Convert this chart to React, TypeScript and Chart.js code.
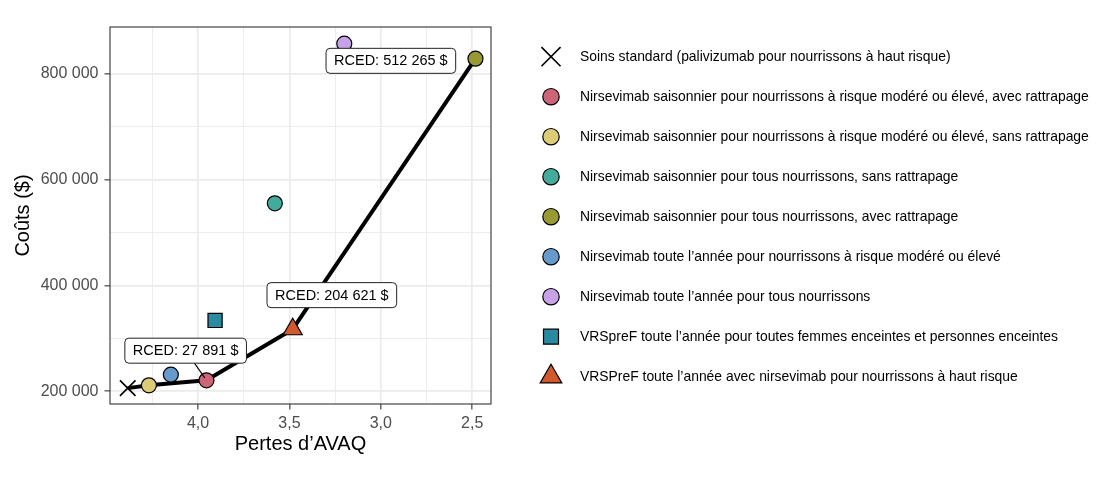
import React, { useEffect, useRef } from "react";
import { Chart, registerables } from "chart.js";
import type { ChartConfiguration, Plugin } from "chart.js";

Chart.register(...registerables);

const FONT = "'Liberation Sans', Arial, Helvetica, sans-serif";

// strategies, in legend order
const strategies = [
    "Soins standard (palivizumab pour nourrissons à haut risque)",
    "Nirsevimab saisonnier pour nourrissons à risque modéré ou élevé, avec rattrapage",
    "Nirsevimab saisonnier pour nourrissons à risque modéré ou élevé, sans rattrapage",
    "Nirsevimab saisonnier pour tous nourrissons, sans rattrapage",
    "Nirsevimab saisonnier pour tous nourrissons, avec rattrapage",
    "Nirsevimab toute l’année pour nourrissons à risque modéré ou élevé",
    "Nirsevimab toute l’année pour tous nourrissons",
    "VRSpreF toute l’année pour toutes femmes enceintes et personnes enceintes",
    "VRSPreF toute l’année avec nirsevimab pour nourrissons à haut risque",
];
const qalyLosses = [4.385, 3.954, 4.269, 3.58, 2.482, 4.149, 3.2, 3.907, 3.482];
const costs = [206000, 220700, 211300, 555000, 828200, 231500, 856500, 333800, 317200];
const fillColors = ["#000000", "#CC6677", "#DDCC77", "#44AA99", "#999933", "#6699CC", "#C7A2E6", "#2A8AA2", "#D2592E"];
const shapes = ["crossRot", "circle", "circle", "circle", "circle", "circle", "circle", "rect", "triangle"];

// efficiency frontier (indices into strategies)
const frontier = [0, 2, 1, 8, 4];

// ICER labels
const icerTexts = ["RCED: 27 891 $", "RCED: 204 621 $", "RCED: 512 265 $"];
const icerTargets = [1, 8, 4];
const icerLabelX = [4.068, 3.268, 2.945];
const icerLabelY = [276700, 381600, 824100];
const icerSegment = [true, false, false];

const xTicks = [4.25, 4.0, 3.75, 3.5, 3.25, 3.0, 2.75, 2.5];
const yTicks = [200000, 300000, 400000, 500000, 600000, 700000, 800000];

const isMajorX = (v: number) => Math.abs(v * 2 - Math.round(v * 2)) < 1e-9;
const isMajorY = (v: number) => v % 200000 === 0;

const plotRadius = (shape: string) =>
    shape === "crossRot" ? 11 : shape === "rect" ? 10 : shape === "triangle" ? 11 : 7.5;
const legendRadius = (shape: string) =>
    shape === "crossRot" ? 13.5 : shape === "rect" ? 10.6 : shape === "triangle" ? 12.5 : 8.2;

const drawMarker = (ctx: CanvasRenderingContext2D, shape: string, x: number, y: number, r: number, fill: string) => {
    ctx.save();
    ctx.beginPath();
    if (shape === "circle") {
        ctx.arc(x, y, r, 0, Math.PI * 2);
    } else if (shape === "rect") {
        const h = r * Math.SQRT1_2;
        ctx.rect(x - h, y - h, 2 * h, 2 * h);
    } else if (shape === "triangle") {
        for (let i = 0; i < 3; i++) {
            const a = (i * 2 * Math.PI) / 3;
            const px = x + Math.sin(a) * r;
            const py = y - Math.cos(a) * r;
            if (i === 0) ctx.moveTo(px, py);
            else ctx.lineTo(px, py);
        }
        ctx.closePath();
    } else {
        const d = r * Math.SQRT1_2;
        ctx.moveTo(x - d, y - d);
        ctx.lineTo(x + d, y + d);
        ctx.moveTo(x - d, y + d);
        ctx.lineTo(x + d, y - d);
        ctx.strokeStyle = "#000";
        ctx.lineWidth = 1.6;
        ctx.stroke();
        ctx.restore();
        return;
    }
    ctx.fillStyle = fill;
    ctx.fill();
    ctx.strokeStyle = "#000";
    ctx.lineWidth = 1.2;
    ctx.stroke();
    ctx.restore();
};

const panelPlugin: Plugin = {
    id: "panelAndLabels",
    afterDatasetsDraw(chart) {
        const { ctx, chartArea } = chart;
        const xs = chart.scales.x;
        const ys = chart.scales.y;
        ctx.save();
        // panel border
        ctx.strokeStyle = "#333333";
        ctx.lineWidth = 1.1;
        ctx.strokeRect(chartArea.left, chartArea.top, chartArea.right - chartArea.left, chartArea.bottom - chartArea.top);

        // ICER labels
        ctx.font = `14.5px ${FONT}`;
        ctx.textAlign = "center";
        ctx.textBaseline = "middle";
        icerTexts.forEach((text, i) => {
            const cx = xs.getPixelForValue(icerLabelX[i]);
            const cy = ys.getPixelForValue(icerLabelY[i]);
            const w = ctx.measureText(text).width + 16;
            const h = 25;
            const left = cx - w / 2;
            const top = cy - h / 2;
            if (icerSegment[i]) {
                const t = icerTargets[i];
                const px = xs.getPixelForValue(qalyLosses[t]);
                const py = ys.getPixelForValue(costs[t]);
                const dx = px - cx;
                const dy = py - cy;
                const s = Math.min(Math.abs((w / 2) / (dx || 1e-9)), Math.abs((h / 2) / (dy || 1e-9)));
                const sx = cx + dx * s;
                const sy = cy + dy * s;
                const len = Math.hypot(px - sx, py - sy);
                const ex = px - ((px - sx) / len) * 3;
                const ey = py - ((py - sy) / len) * 3;
                ctx.beginPath();
                ctx.moveTo(sx, sy);
                ctx.lineTo(ex, ey);
                ctx.strokeStyle = "#000";
                ctx.lineWidth = 1.1;
                ctx.stroke();
            }
            ctx.beginPath();
            ctx.roundRect(left, top, w, h, 4);
            ctx.fillStyle = "#ffffff";
            ctx.fill();
            ctx.strokeStyle = "#222222";
            ctx.lineWidth = 1;
            ctx.stroke();
            ctx.fillStyle = "#000000";
            ctx.fillText(text, cx, cy + 0.5);
        });
        ctx.restore();
    },
    afterDraw(chart) {
        const { ctx } = chart;
        ctx.save();
        ctx.font = `13.9px ${FONT}`;
        ctx.textAlign = "left";
        ctx.textBaseline = "middle";
        strategies.forEach((name, i) => {
            const y = 56.7 + i * 40;
            drawMarker(ctx, shapes[i], 551, y, legendRadius(shapes[i]), fillColors[i]);
            ctx.fillStyle = "#000000";
            ctx.fillText(name, 580, y);
        });
        ctx.restore();
    },
};

const formatCost = (v: number) => String(Math.round(v)).replace(/\B(?=(\d{3})+(?!\d))/g, " ");
const formatLoss = (v: number) => v.toFixed(1).replace(".", ",");

const CostEffectivenessChart: React.FC = () => {
    const canvasRef = useRef<HTMLCanvasElement | null>(null);

    useEffect(() => {
        const canvas = canvasRef.current;
        if (!canvas) return;

        const frontierDataset: any = {
            label: "frontier",
            data: frontier.map((i) => ({ x: qalyLosses[i], y: costs[i] })),
            showLine: true,
            borderColor: "#000000",
            borderWidth: 4,
            borderJoinStyle: "round",
            pointRadius: 0,
            clip: false,
            order: 10,
        };

        const strategyDatasets: any[] = strategies.map((name, i) => ({
            label: name,
            data: [{ x: qalyLosses[i], y: costs[i] }],
            pointStyle: shapes[i],
            pointRadius: plotRadius(shapes[i]),
            pointBackgroundColor: fillColors[i],
            pointBorderColor: "#000000",
            pointBorderWidth: shapes[i] === "crossRot" ? 1.6 : 1.2,
            clip: false,
            order: 1,
        }));

        const scaleFont = { family: FONT, size: 16 };

        const config: ChartConfiguration = {
            type: "scatter",
            data: { datasets: [frontierDataset, ...strategyDatasets] },
            options: {
                responsive: true,
                maintainAspectRatio: false,
                animation: false,
                events: [],
                layout: { padding: { top: 27, right: 609, bottom: 0, left: 0 } },
                plugins: {
                    legend: { display: false },
                    tooltip: { enabled: false },
                },
                scales: {
                    x: {
                        type: "linear",
                        reverse: true,
                        min: 2.397,
                        max: 4.482,
                        afterBuildTicks: (scale: any) => {
                            scale.ticks = xTicks.map((value) => ({ value }));
                        },
                        afterFit: (scale: any) => {
                            scale.height = 80;
                        },
                        border: { display: false },
                        grid: {
                            color: "#EBEBEB",
                            lineWidth: (c: any) => (isMajorX(c.tick.value) ? 1.7 : 0.9),
                            tickLength: 5.5,
                            tickWidth: 1.1,
                            tickColor: (c: any) => (isMajorX(c.tick.value) ? "#333333" : "rgba(0,0,0,0)"),
                        },
                        ticks: {
                            color: "#4D4D4D",
                            font: scaleFont,
                            padding: 4,
                            autoSkip: false,
                            maxRotation: 0,
                            callback: (v: any) => (isMajorX(Number(v)) ? formatLoss(Number(v)) : ""),
                        },
                        title: {
                            display: true,
                            text: "Pertes d’AVAQ",
                            color: "#000000",
                            font: { family: FONT, size: 20, lineHeight: 1.2 },
                            padding: { top: 0, bottom: 28 },
                        },
                    },
                    y: {
                        type: "linear",
                        min: 176000,
                        max: 888000,
                        afterBuildTicks: (scale: any) => {
                            scale.ticks = yTicks.map((value) => ({ value }));
                        },
                        afterFit: (scale: any) => {
                            scale.width = 110;
                        },
                        border: { display: false },
                        grid: {
                            color: "#EBEBEB",
                            lineWidth: (c: any) => (isMajorY(c.tick.value) ? 1.7 : 0.9),
                            tickLength: 5.5,
                            tickWidth: 1.1,
                            tickColor: (c: any) => (isMajorY(c.tick.value) ? "#333333" : "rgba(0,0,0,0)"),
                        },
                        ticks: {
                            color: "#4D4D4D",
                            font: scaleFont,
                            padding: 6,
                            autoSkip: false,
                            callback: (v: any) => (isMajorY(Number(v)) ? formatCost(Number(v)) : ""),
                        },
                        title: {
                            display: true,
                            text: "Coûts ($)",
                            color: "#000000",
                            font: { family: FONT, size: 20, lineHeight: 1.2 },
                            padding: { top: 11.5, bottom: 0 },
                        },
                    },
                },
            } as any,
            plugins: [panelPlugin],
        };

        const chart = new Chart(canvas, config);
        return () => {
            chart.destroy();
        };
    }, []);

    return <canvas ref={canvasRef} />;
};

export default function App() {
    return (
        <div style={{ position: "absolute", left: 0, top: 0, width: 1100, height: 484, background: "#ffffff" }}>
            <CostEffectivenessChart />
        </div>
    );
}
